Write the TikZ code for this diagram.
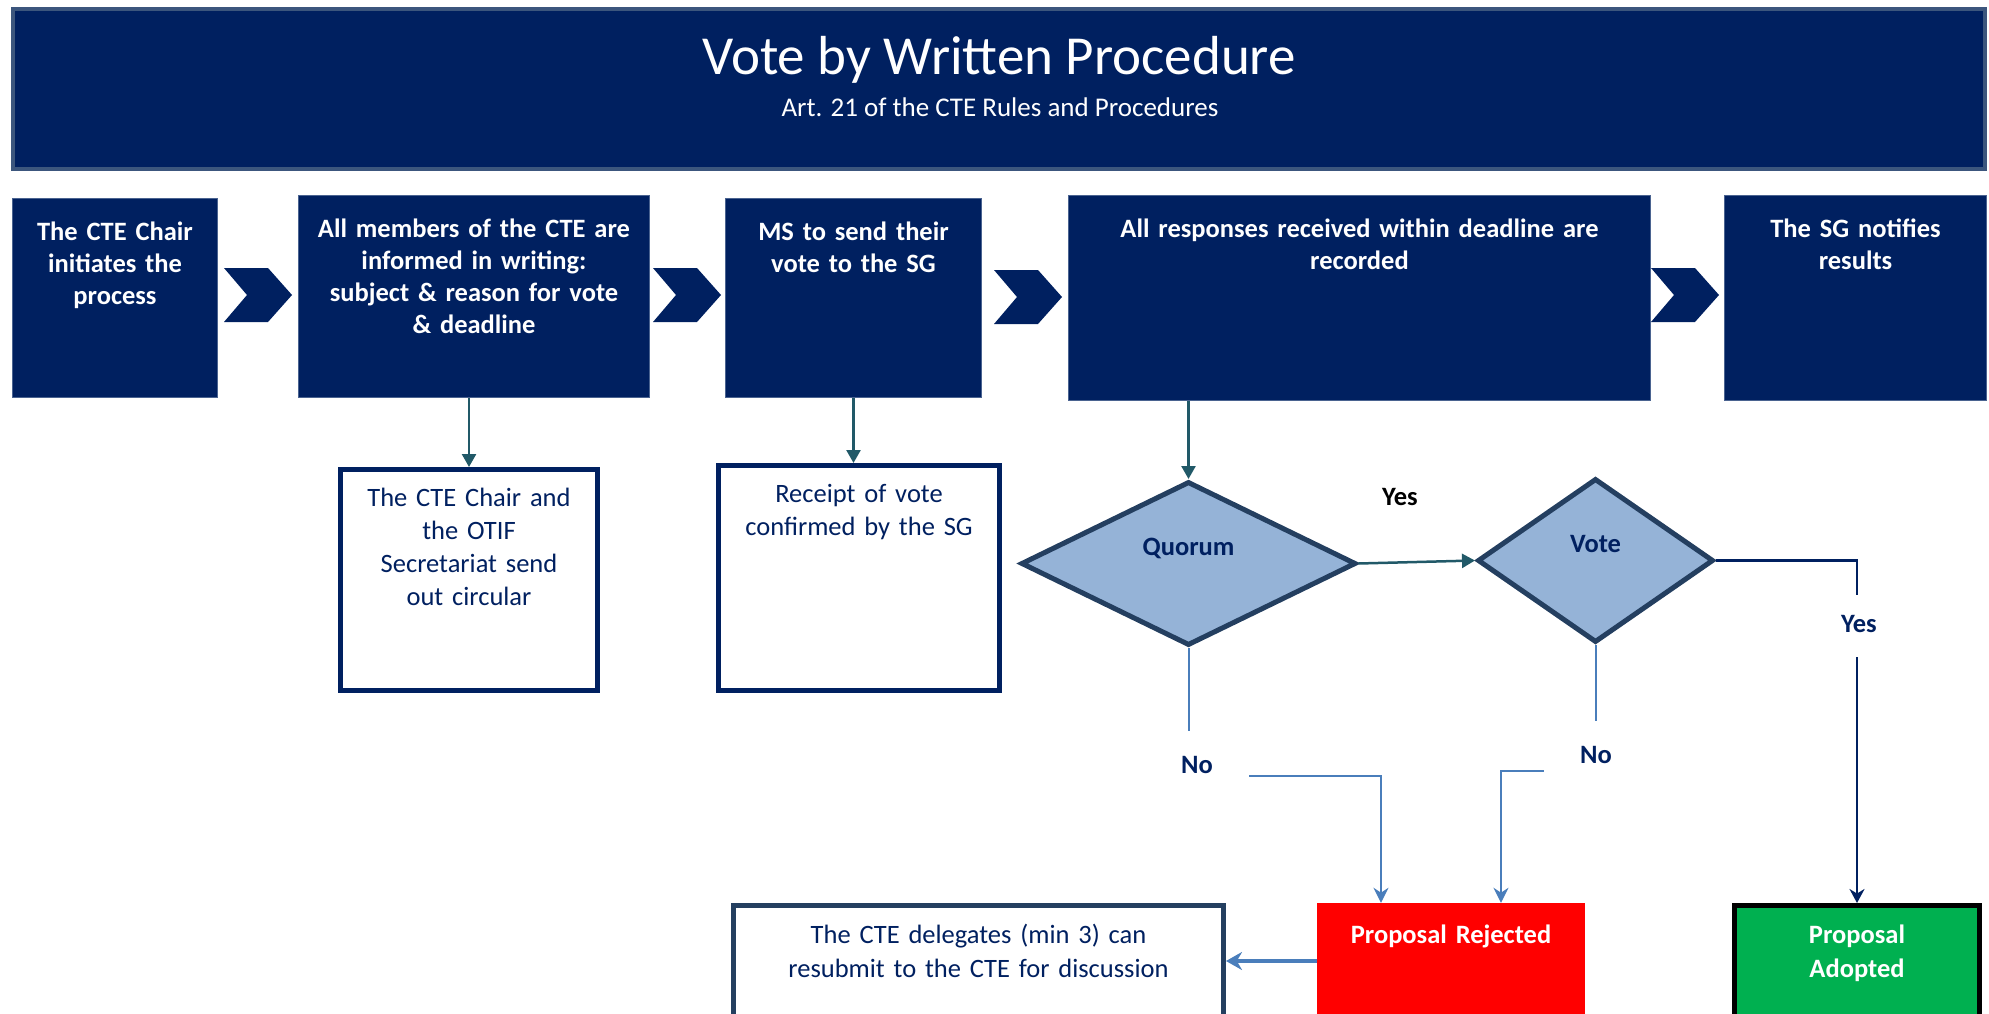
\documentclass[tikz,border=0pt]{standalone}
\usepackage{fontspec}
\setmainfont{Carlito}
\usetikzlibrary{shapes.geometric,arrows.meta}

\definecolor{ctenavy}{HTML}{002060}
\definecolor{ctehead}{HTML}{3C567D}
\definecolor{stageedge}{HTML}{4A6390}
\definecolor{diagline}{HTML}{243F60}
\definecolor{diagfill}{HTML}{95B3D7}
\definecolor{tealline}{HTML}{215968}
\definecolor{noblue}{HTML}{4A7EBB}
\definecolor{rejred}{HTML}{FF0000}
\definecolor{adoptgreen}{HTML}{00B050}

\tikzset{
    header/.style={draw=ctehead, line width=4pt, fill=ctenavy, text=white, inner sep=0pt,
        text height=66pt, font=\fontsize{55}{60}\selectfont},
    subtitle/.style={text=white, inner sep=0pt, font=\fontsize{27}{32}\selectfont},
    stage/.style={draw=stageedge, line width=1pt, fill=ctenavy, text=white, align=center,
        inner sep=0pt, text height=42pt, font=\bfseries\fontsize{26.5}{32}\selectfont},
    note/.style={draw=ctenavy, line width=5pt, fill=white, text=ctenavy, align=center,
        inner sep=0pt, text height=36.5pt, font=\fontsize{26.5}{33}\selectfont},
    decision/.style={diamond, draw=diagline, line width=5pt, fill=diagfill, text=ctenavy,
        inner sep=0pt, text height=18pt, text depth=34pt, font=\bfseries\fontsize{26.5}{32}\selectfont},
    outcome/.style={align=center, inner sep=0pt, font=\fontsize{26.5}{34}\selectfont},
    tealarrow/.style={draw=tealline, line width=2.5pt, -{Triangle[length=13pt,width=14pt]}},
    noarrow/.style={draw=noblue, line width=2pt, -{Stealth[length=15pt,width=15pt]}},
    yesarrow/.style={draw=ctenavy, line width=2.5pt, -{Stealth[length=14pt,width=15pt]}},
    rejarrow/.style={draw=noblue, line width=3.5pt, -{Stealth[length=16pt,width=18pt]}},
    answer/.style={anchor=base, inner sep=0pt, text=ctenavy, font=\bfseries\fontsize{26.5}{32}\selectfont},
    nolabel/.style={answer, fill=white, text height=42pt, text depth=11pt, minimum width=104pt},
    yeslabel/.style={answer, fill=white, text height=37pt, text depth=25pt, minimum width=60pt}
}

\begin{document}
\begin{tikzpicture}[x=1pt, y=-1pt]
    \useasboundingbox (0,0) rectangle (1989,1014);
    \clip (0,0) rectangle (1989,1014);

    % Encabezado
    \node[header, minimum width=1972pt, text depth=94pt] (header) at (999,89) {Vote by Written Procedure};
    \node[subtitle, anchor=base] (subtitle) at (1000,117) {Art. 21 of the CTE Rules and Procedures};

    % Etapas del proceso
    \node[stage, text width=205pt, text depth=157pt] (b1) at (115,298) {The CTE Chair\\initiates the\\process};
    \node[stage, text width=351pt, text depth=160pt] (b2) at (474,296.5) {All members of the CTE are\\informed in writing:\\subject \& reason for vote\\\& deadline};
    \node[stage, text width=256pt, text depth=157pt] (b3) at (853.5,298) {MS to send their\\vote to the SG};
    \node[stage, text width=582pt, text depth=163pt] (b4) at (1359.5,298) {All responses received within deadline are\\recorded};
    \node[stage, text width=262pt, text depth=163pt] (b5) at (1855.5,298) {The SG notifies\\results};

    % Flechas entre etapas
    \foreach \cx/\cy in {224/268, 653/268, 994/270, 1651/268} {
        \fill[ctenavy] (\cx,\cy) -- ++(44,0) -- ++(24,27) -- ++(-24,27) -- ++(-44,0) -- ++(23,-27) -- cycle;
    }

    % Notas
    \node[note, text width=257pt, text depth=184.5pt] (wb1) at (469,580) {The CTE Chair and\\the OTIF\\Secretariat send\\out circular};
    \node[note, text width=281pt, text depth=188.5pt] (wb2) at (859,578) {Receipt of vote\\confirmed by the SG};

    % Decisiones
    \node[decision, minimum width=335pt, minimum height=164pt] (quorum) at (1188.5,563.5) {Quorum};
    \node[decision, minimum width=236pt, minimum height=164pt] (vote) at (1595.5,560.5) {Vote};

    % Resultados
    \node[outcome, draw=diagline, line width=5pt, fill=white, text=ctenavy, text width=490pt,
        text height=37.5pt, text depth=73.5pt] (resubmit) at (978.5,961) {The CTE delegates (min 3) can\\resubmit to the CTE for discussion};
    \node[outcome, fill=rejred, text=white, text width=268pt, text height=40pt, text depth=76pt,
        font=\bfseries\fontsize{26.5}{34}\selectfont] (rejected) at (1451,961) {Proposal Rejected};
    \node[outcome, draw=black, line width=5pt, fill=adoptgreen, text=white, text width=245pt,
        text height=37.5pt, text depth=73.5pt, font=\bfseries\fontsize{26.5}{34}\selectfont] (adopted) at (1857,961) {Proposal\\Adopted};

    % Conexiones
    \draw[tealarrow] (wb1.north |- b2.south) -- (wb1.north);
    \draw[tealarrow] (b3.south) -- (b3.south |- wb2.north);
    \draw[tealarrow] (quorum.north |- b4.south) -- (quorum.north);
    \draw[tealarrow] (quorum.east) -- (vote.west);
    \node[answer, text=black] (yesq) at (1400,505) {Yes};

    \coordinate (qbend) at (1381,776);
    \coordinate (vbend) at (1501,771);
    \draw[noarrow] (quorum.south) |- (qbend) -- (qbend |- rejected.north);
    \draw[noarrow] (vote.south) |- (vbend) -- (vbend |- rejected.north);
    \node[nolabel] (noq) at (1197,773) {No};
    \node[nolabel] (nov) at (1596,763) {No};

    \draw[yesarrow] (vote.east) -| (adopted.north);
    \node[yeslabel] (yesv) at (1859,632) {Yes};

    \draw[rejarrow] (rejected.west) -- (resubmit.east);
\end{tikzpicture}
\end{document}
